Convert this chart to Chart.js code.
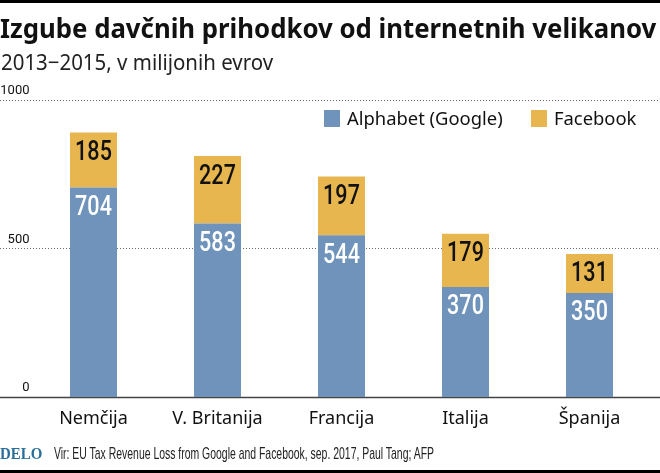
<!DOCTYPE html>
<html>
<head>
<meta charset="utf-8">
<script src="https://cdn.jsdelivr.net/npm/chart.js@4"></script>
<style>
    html, body { margin: 0; padding: 0; background: #fff; }
    #wrap { position: relative; width: 660px; height: 473px; overflow: hidden; }
    #chart { position: absolute; left: 0; top: 0; }
    .bar { position: absolute; left: 0; width: 660px; background: #000; }
    .txt { position: absolute; white-space: nowrap; color: #111; transform-origin: left top; }
    #title { left: 0; top: 9px; font: bold 27.5px "Noto Sans", sans-serif; }
    #subtitle { left: 1px; top: 47px; font: 21.5px "Noto Sans", sans-serif; color: #222; }
    #logo { left: 0; top: 445px; font: bold 16px "Liberation Serif", serif; color: #2a6f9b; }
    #source { left: 54px; top: 444px; font: 17px "Liberation Sans", sans-serif; color: #222; }
    .swatch { position: absolute; top: 110px; width: 16px; height: 17px; }
    .legend-text { top: 105px; font: 18.4px "Noto Sans", sans-serif; }
</style>
</head>
<body>
<div id="wrap">
    <canvas id="chart" width="660" height="473"></canvas>
    <div class="bar" style="top:0;height:3px"></div>
    <div class="bar" style="top:470px;height:3px"></div>
    <div class="txt" id="title">Izgube davčnih prihodkov od internetnih velikanov</div>
    <div class="txt" id="subtitle">2013−2015, v milijonih evrov</div>
    <div class="txt" id="logo">DELO</div>
    <div class="txt" id="source">Vir: EU Tax Revenue Loss from Google and Facebook, sep. 2017, Paul Tang; AFP</div>
    <div id="legend"></div>
</div>
<script>
const countries = ['Nemčija', 'V. Britanija', 'Francija', 'Italija', 'Španija'];
const alphabet = [704, 583, 544, 370, 350];
const facebook = [185, 227, 197, 179, 131];
const yTicks = [0, 500, 1000];
const seriesColors = ['#7093bb', '#e8b64e'];
const legendLeft = [324, 531];

// The original type is narrower than any installed font, so squeeze to the measured width
function fitWidth(id, width) {
    const el = document.getElementById(id);
    el.style.transform = `scaleX(${width / el.offsetWidth})`;
}
fitWidth('title', 656);
fitWidth('subtitle', 272);
fitWidth('logo', 42);
fitWidth('source', 380);

// Gridlines run over the whole width of the page, not only the plot area
const fullWidthGrid = {
    id: 'fullWidthGrid',
    beforeDatasetsDraw(chart) {
        const ctx = chart.ctx;
        const y = chart.scales.y;
        ctx.save();
        yTicks.forEach(tick => {
            const py = Math.round(y.getPixelForValue(tick)) + 0.5;
            ctx.beginPath();
            ctx.moveTo(0, py);
            ctx.lineTo(chart.width, py);
            if (tick === 0) {
                ctx.setLineDash([]);
                ctx.strokeStyle = '#444';
                ctx.lineWidth = 1.5;
            } else {
                ctx.setLineDash([1, 2]);
                ctx.strokeStyle = '#666';
                ctx.lineWidth = 1;
            }
            ctx.stroke();
        });
        ctx.restore();
    }
};

// Value labels sit just under the top edge of each segment
const valueLabels = {
    id: 'valueLabels',
    afterDatasetsDraw(chart) {
        const ctx = chart.ctx;
        ctx.font = '500 28px Roboto, sans-serif';
        ctx.textAlign = 'center';
        ctx.textBaseline = 'middle';
        chart.data.datasets.forEach((dataset, i) => {
            ctx.fillStyle = i === 0 ? '#fff' : '#111';
            chart.getDatasetMeta(i).data.forEach((bar, j) => {
                ctx.save();
                ctx.translate(bar.x, bar.y + 20.5);
                ctx.scale(0.77, 1);
                ctx.fillText(dataset.data[j], 0, 0);
                ctx.restore();
            });
        });
    }
};

const chart = new Chart(document.getElementById('chart'), {
    type: 'bar',
    data: {
        labels: countries,
        datasets: [
            { label: 'Alphabet (Google)', data: alphabet, backgroundColor: seriesColors[0] },
            { label: 'Facebook', data: facebook, backgroundColor: seriesColors[1] }
        ]
    },
    options: {
        responsive: false,
        animation: false,
        layout: { padding: { top: 99.5, right: 8.5, left: 0, bottom: 0 } },
        datasets: { bar: { categoryPercentage: 1, barPercentage: 0.379 } },
        scales: {
            x: {
                stacked: true,
                grid: { display: false },
                border: { display: false },
                ticks: {
                    color: '#111',
                    padding: 3,
                    maxRotation: 0,
                    font: { family: '"Noto Sans", sans-serif', size: 18 }
                },
                afterFit(scale) { scale.height = 76; }
            },
            y: {
                stacked: true,
                min: 0,
                max: 1000,
                grid: { display: false, drawTicks: false },
                border: { display: false },
                afterBuildTicks(scale) { scale.ticks = yTicks.map(value => ({ value })); },
                ticks: {
                    color: '#111',
                    padding: 2,
                    labelOffset: -9,
                    font: { family: 'Roboto, sans-serif', size: 13 },
                    callback: value => String(value)
                },
                afterFit(scale) { scale.width = 31.5; }
            }
        },
        plugins: {
            tooltip: { enabled: false },
            legend: { display: false }
        }
    },
    plugins: [fullWidthGrid, valueLabels]
});

// Legend sits inside the plot on one row, built from the chart's datasets
const legend = document.getElementById('legend');
chart.data.datasets.forEach((dataset, i) => {
    const swatch = document.createElement('div');
    swatch.className = 'swatch';
    swatch.style.left = legendLeft[i] + 'px';
    swatch.style.background = dataset.backgroundColor;
    legend.appendChild(swatch);
    const text = document.createElement('div');
    text.className = 'txt legend-text';
    text.style.left = (legendLeft[i] + 23) + 'px';
    text.textContent = dataset.label;
    legend.appendChild(text);
});
</script>
</body>
</html>
